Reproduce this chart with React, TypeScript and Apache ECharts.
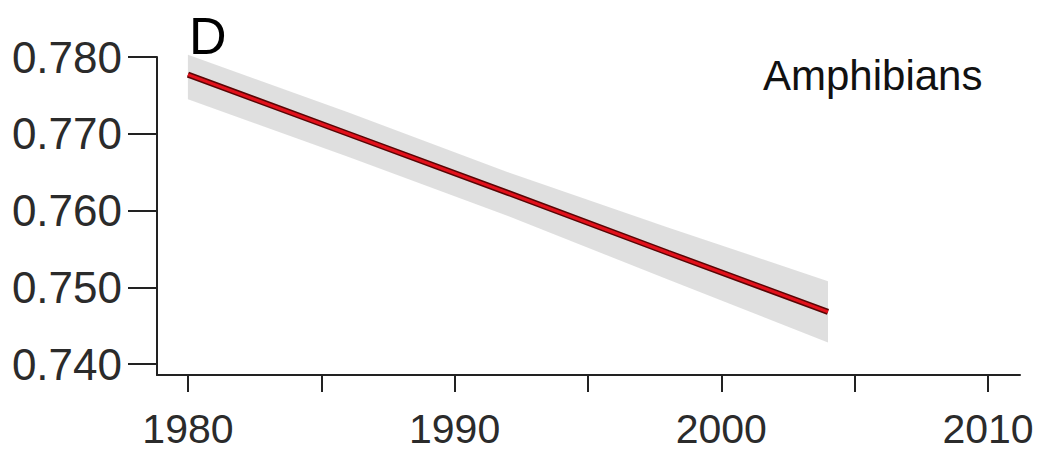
import React, { useEffect, useRef } from "react";
import * as echarts from "echarts";

const years = [1980, 1986, 1992, 1998, 2004];
const fitValues = [0.7777, 0.77, 0.7623, 0.7545, 0.7468];
const upperValues = [0.7803, 0.7728, 0.765, 0.7578, 0.7508];
const lowerValues = [0.7745, 0.767, 0.7593, 0.751, 0.7428];
const xTicks = [1980, 1985, 1990, 1995, 2000, 2005, 2010];
const xLabels = [1980, 1990, 2000, 2010];
const yTicks = [0.74, 0.75, 0.76, 0.77, 0.78];
const panelLetter = "D";
const groupName = "Amphibians";

const FONT = "'Liberation Sans', Arial, sans-serif";

export default function App() {
  const ref = useRef<HTMLDivElement>(null);
  useEffect(() => {
    if (!ref.current) return;
    const chart = echarts.init(ref.current, null, { renderer: "svg" });
    const fitData = years.map((y, i) => [y, fitValues[i]]);
    const bandData = years.map((y, i) => [y, upperValues[i], lowerValues[i]]);
    chart.setOption({
      animation: false,
      backgroundColor: "#ffffff",
      grid: { left: 157, right: 21, top: 57, bottom: 75 },
      xAxis: {
        type: "value",
        min: 1978.84,
        max: 2011.2,
        splitLine: { show: false },
        axisLine: { show: true, onZero: false, lineStyle: { color: "#222", width: 2 } },
        axisTick: { show: true, customValues: xTicks, length: 17, lineStyle: { color: "#222", width: 2 } },
        axisLabel: {
          customValues: xLabels,
          margin: 33,
          fontSize: 41,
          fontFamily: FONT,
          color: "#2b2b2b",
          formatter: (v: number) => String(v),
        },
      },
      yAxis: {
        type: "value",
        min: 0.73857,
        max: 0.78,
        splitLine: { show: false },
        axisLine: { show: true, onZero: false, lineStyle: { color: "#222", width: 2 } },
        axisTick: { show: true, customValues: yTicks, length: 29, lineStyle: { color: "#222", width: 2 } },
        axisLabel: {
          customValues: yTicks,
          margin: 35,
          fontSize: 44,
          fontFamily: FONT,
          color: "#2b2b2b",
          formatter: (v: number) => v.toFixed(3),
        },
      },
      series: [
        {
          type: "custom",
          data: bandData,
          z: 1,
          renderItem: (params: any, api: any) => {
            if (params.dataIndex !== 0) return null;
            const pts: number[][] = [];
            for (let i = 0; i < years.length; i++) pts.push(api.coord([years[i], upperValues[i]]));
            for (let i = years.length - 1; i >= 0; i--) pts.push(api.coord([years[i], lowerValues[i]]));
            return {
              type: "polygon",
              shape: { points: pts },
              style: { fill: "#dcdcdc", opacity: 0.9 },
            };
          },
        },
        {
          type: "line",
          data: fitData,
          symbol: "none",
          z: 2,
          lineStyle: { color: "#5a0505", width: 6, cap: "butt" },
        },
        {
          type: "line",
          data: fitData,
          symbol: "none",
          z: 3,
          lineStyle: { color: "#e2111b", width: 3, cap: "butt" },
        },
      ],
      graphic: [
        {
          type: "text",
          left: 189,
          top: 10,
          style: { text: panelLetter, font: `52px ${FONT}`, fill: "#000" },
        },
        {
          type: "text",
          left: 763,
          top: 54,
          style: { text: groupName, font: `42px ${FONT}`, fill: "#111" },
        },
      ],
    });
    return () => chart.dispose();
  }, []);
  return (
    <div
      ref={ref}
      style={{ position: "absolute", left: 0, top: 0, width: 1041, height: 450 }}
    />
  );
}
